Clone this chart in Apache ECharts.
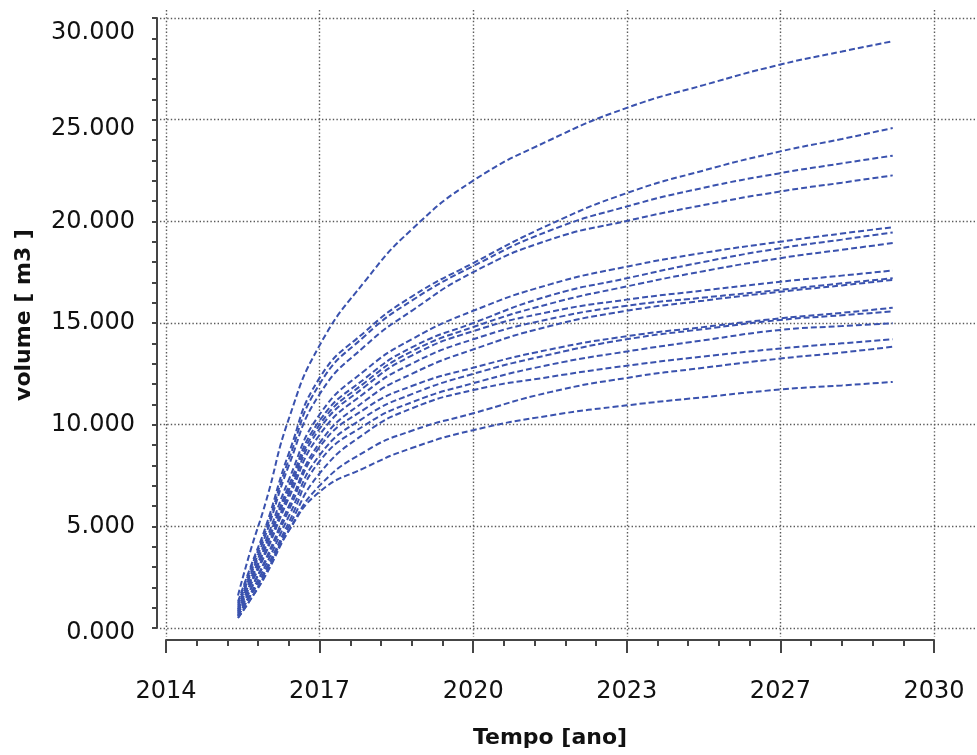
<!DOCTYPE html>
<html>
<head>
<meta charset="utf-8">
<script src="https://cdn.jsdelivr.net/npm/echarts@6/dist/echarts.min.js"></script>
<style>
html,body{margin:0;padding:0;background:#fff;}
#main{width:977px;height:755px;}
</style>
</head>
<body>
<div id="main"></div>
<script>
// x tick labels (as printed in the original)
const xTickLabels = ['2014', '2017', '2020', '2023', '2027', '2030'];
// y tick labels
const yTickLabels = ['0.000', '5.000', '10.000', '15.000', '20.000', '25.000', '30.000'];
// sample times (decimal years)
const timeYears = [2015.50, 2015.76, 2016.08, 2016.56, 2017.20, 2018.16, 2019.12, 2020.40, 2022.00, 2023.60, 2025.20, 2026.80, 2028.08, 2029.14];
// volumes [m3] for each curve
const curve01 = [1600, 3800, 6200, 10300, 13900, 17100, 19600, 22000, 24000, 25580, 26700, 27710, 28350, 28860];
const curve02 = [1300, 3000, 5000, 8600, 12300, 14600, 16300, 17950, 19850, 21390, 22500, 23440, 24050, 24590];
const curve03 = [1200, 2900, 4800, 8300, 12000, 14400, 16100, 17800, 19550, 20730, 21650, 22370, 22850, 23230];
const curve04 = [1100, 2700, 4600, 8000, 11500, 13900, 15600, 17500, 19100, 20020, 20800, 21470, 21900, 22260];
const curve05 = [1000, 2600, 4300, 7300, 10500, 12700, 14200, 15600, 16900, 17770, 18450, 19000, 19400, 19710];
const curve06 = [900, 2400, 4100, 7000, 10200, 12300, 13800, 15000, 16350, 17200, 18000, 18680, 19100, 19450];
const curve07 = [900, 2300, 4000, 6800, 10000, 12100, 13600, 14800, 15950, 16800, 17550, 18190, 18600, 18930];
const curve08 = [800, 2200, 3800, 6600, 9800, 11900, 13400, 14600, 15550, 16150, 16600, 17030, 17330, 17580];
const curve09 = [800, 2100, 3700, 6400, 9500, 11600, 13000, 14200, 15200, 15850, 16250, 16630, 16950, 17200];
const curve10 = [700, 1900, 3400, 6000, 9100, 11200, 12500, 13700, 14850, 15600, 16100, 16540, 16850, 17120];
const curve11 = [700, 1900, 3300, 5800, 8900, 10800, 11900, 12800, 13700, 14350, 14800, 15230, 15500, 15750];
const curve12 = [600, 1700, 3100, 5500, 8500, 10400, 11500, 12500, 13450, 14200, 14700, 15150, 15380, 15570];
const curve13 = [600, 1600, 2900, 5200, 8200, 10000, 11100, 12040, 12950, 13600, 14150, 14660, 14850, 14990];
const curve14 = [600, 1600, 2800, 5000, 7600, 9600, 10800, 11700, 12350, 12900, 13350, 13750, 14000, 14200];
const curve15 = [500, 1400, 2600, 4800, 7000, 8700, 9700, 10560, 11600, 12300, 12800, 13250, 13550, 13830];
const curve16 = [500, 1400, 2700, 4800, 6700, 7900, 8850, 9730, 10450, 10950, 11350, 11730, 11930, 12100];

const curves = [curve01, curve02, curve03, curve04, curve05, curve06, curve07, curve08,
                curve09, curve10, curve11, curve12, curve13, curve14, curve15, curve16];

const START_YEAR = 2014;
const YEARS_PER_TICK = 3.2;
const lineColor = '#3a52ae';
const gridColor = '#5a5a5a';
const axisColor = '#454545';
const dotted = { type: [1.4, 2.2], color: gridColor, width: 1.4 };

// downward nudge (px) of some y labels, as in the original picture
const yLabelNudge = [5, 0, 0, 0, 1, 9, 15];

const yLabelFont = { fontFamily: 'DejaVu Sans', fontSize: 24, color: '#111', lineHeight: 26 };
const yRich = { t: yLabelFont };
yLabelNudge.forEach((d, i) => { yRich['sp' + i] = { fontSize: 1, lineHeight: Math.max(1, 2 * d) }; });

const chart = echarts.init(document.getElementById('main'), null, { renderer: 'canvas' });

const series = curves.map((c, k) => ({
  name: 'c' + (k + 1),
  type: 'line',
  xAxisIndex: 2,
  yAxisIndex: 2,
  showSymbol: false,
  smooth: true,
  silent: true,
  lineStyle: { color: lineColor, width: 2, type: [6, 3] },
  data: timeYears.map((yr, i) => [yr - START_YEAR, c[i]])
}));

chart.setOption({
  animation: false,
  backgroundColor: '#ffffff',
  grid: [
    { left: 160, right: 0, top: 18, height: 610 },
    { left: 166, width: 768, top: 10, height: 627 },
    { left: 166, width: 768, top: 18, height: 610 }
  ],
  xAxis: [
    { gridIndex: 0, type: 'value', min: 0, max: 16, show: false },
    {
      gridIndex: 1, type: 'value', min: 0, max: 16, interval: YEARS_PER_TICK,
      axisLine: { show: false }, axisTick: { show: false }, axisLabel: { show: false },
      splitLine: { show: true, lineStyle: dotted }
    },
    {
      gridIndex: 2, type: 'value', min: 0, max: 16, interval: YEARS_PER_TICK,
      position: 'bottom', offset: 12,
      axisLine: { show: true, onZero: false, lineStyle: { color: axisColor, width: 2 } },
      axisTick: { show: true, length: 13, lineStyle: { color: axisColor, width: 2 } },
      minorTick: { show: true, splitNumber: 5, length: 6, lineStyle: { color: axisColor, width: 2 } },
      axisLabel: {
        margin: 40, color: '#111', fontFamily: 'DejaVu Sans', fontSize: 24,
        formatter: v => xTickLabels[Math.round(v / YEARS_PER_TICK)]
      },
      splitLine: { show: false },
      name: 'Tempo [ano]', nameLocation: 'middle', nameGap: 87,
      nameTextStyle: { fontFamily: 'DejaVu Sans', fontWeight: 'bold', fontSize: 22, color: '#111' }
    }
  ],
  yAxis: [
    {
      gridIndex: 0, type: 'value', min: 0, max: 30000, interval: 5000,
      axisLine: { show: false }, axisTick: { show: false }, axisLabel: { show: false },
      splitLine: { show: true, lineStyle: dotted }
    },
    { gridIndex: 1, type: 'value', min: 0, max: 1, show: false },
    {
      gridIndex: 2, type: 'value', min: 0, max: 30000, interval: 5000,
      position: 'left', offset: 9,
      axisLine: { show: true, onZero: false, lineStyle: { color: axisColor, width: 2 } },
      axisTick: { show: true, length: 5, lineStyle: { color: axisColor, width: 2 } },
      minorTick: { show: true, splitNumber: 5, length: 5, lineStyle: { color: axisColor, width: 2 } },
      axisLabel: {
        margin: 22,
        formatter: v => {
          const i = Math.round(v / 5000);
          const d = yLabelNudge[i];
          const txt = '{t|' + yTickLabels[i] + '}';
          return d >= 2 ? '{sp' + i + '| }\n' + txt : txt;
        },
        rich: yRich
      },
      splitLine: { show: false },
      name: 'volume [ m3 ]', nameLocation: 'middle', nameGap: 122,
      nameTextStyle: { fontFamily: 'DejaVu Sans', fontWeight: 'bold', fontSize: 22, color: '#111', padding: [0, 0, 0, 16] }
    }
  ],
  series: series
});
</script>
</body>
</html>
